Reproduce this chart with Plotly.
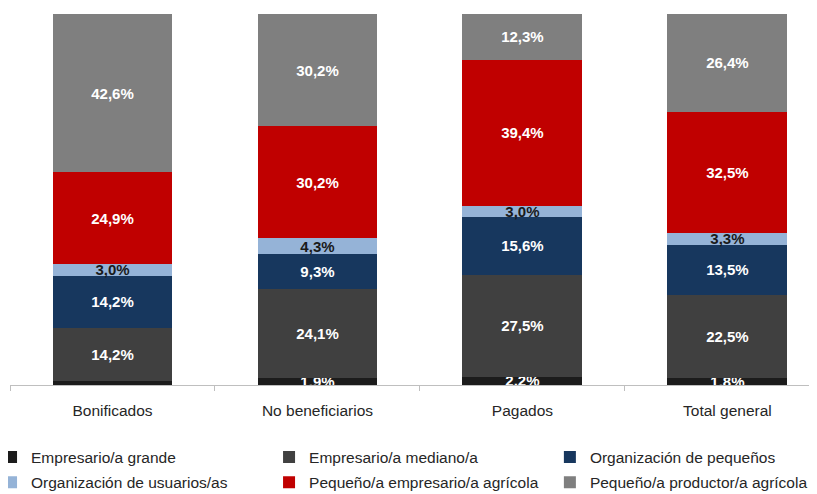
import plotly.graph_objects as go

categories = ["Bonificados", "No beneficiarios", "Pagados", "Total general"]
series_names = [
    "Empresario/a grande",
    "Empresario/a mediano/a",
    "Organización de pequeños",
    "Organización de usuarios/as",
    "Pequeño/a empresario/a agrícola",
    "Pequeño/a productor/a agrícola",
]
grande = [1.1, 1.9, 2.2, 1.8]
mediano = [14.2, 24.1, 27.5, 22.5]
org_pequenos = [14.2, 9.3, 15.6, 13.5]
org_usuarios = [3.0, 4.3, 3.0, 3.3]
peq_empresario = [24.9, 30.2, 39.4, 32.5]
peq_productor = [42.6, 30.2, 12.3, 26.4]
show_label_grande = [False, True, True, True]

series_values = [grande, mediano, org_pequenos, org_usuarios, peq_empresario, peq_productor]
colors = ["#1c1c1c", "#404040", "#17375e", "#95b3d7", "#c00000", "#7f7f7f"]
text_colors = ["white", "white", "white", "#1a1a1a", "white", "white"]

# legend layout: one legend per entry (3 columns x 2 rows)
legend_ids = ["legend", "legend2", "legend3", "legend4", "legend5", "legend6"]
legend_cols = [-0.0235, 0.321, 0.669]
legend_rows = [-0.195, -0.2635]

def fmt(v):
    return f"{v:.1f}%".replace(".", ",")

fig = go.Figure()
for i, (name, vals) in enumerate(zip(series_names, series_values)):
    if i == 0:
        texts = [fmt(v) if s else "" for v, s in zip(vals, show_label_grande)]
    else:
        texts = [fmt(v) for v in vals]
    fig.add_trace(go.Bar(
        x=categories, y=vals, name=name, legend=legend_ids[i],
        marker=dict(color=colors[i], line=dict(width=0)),
        text=texts, textposition="inside", insidetextanchor="middle",
        constraintext="none", textangle=0,
        texttemplate="<b>%{text}</b>",
        textfont=dict(color=text_colors[i], size=15, family="Liberation Sans"),
        width=0.585, hoverinfo="skip",
    ))

legend_layouts = {}
for i, lid in enumerate(legend_ids):
    legend_layouts[lid] = dict(
        orientation="h",
        x=legend_cols[i % 3], xanchor="left",
        y=legend_rows[i // 3], yanchor="middle",
        font=dict(size=15.5, color="#262626", family="Liberation Sans"),
        bgcolor="rgba(0,0,0,0)",
    )

fig.update_layout(
    barmode="stack",
    width=817, height=494,
    margin=dict(l=2, r=8, t=6, b=117, autoexpand=False),
    plot_bgcolor="white", paper_bgcolor="white",
    font=dict(family="Liberation Sans", size=15.5, color="#262626"),
    xaxis=dict(
        range=[-0.5, 3.437], showline=True, linecolor="#bfbfbf", linewidth=1,
        ticks="outside", tickson="boundaries", ticklen=5, tickcolor="#bfbfbf",
        ticklabelstandoff=11, tickfont=dict(size=15.5, color="#262626"),
        showgrid=False, fixedrange=True, automargin=False,
    ),
    yaxis=dict(range=[0, 100], visible=False, showgrid=False, fixedrange=True,
               automargin=False),
    showlegend=True,
    **legend_layouts,
)

fig.write_html("out.html")
